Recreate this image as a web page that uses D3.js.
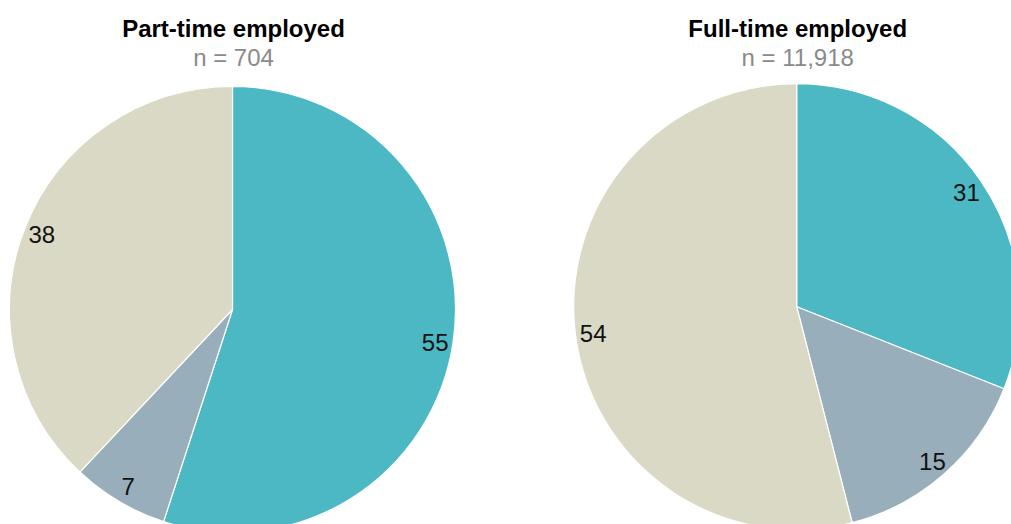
<!DOCTYPE html>
<html>
<head>
<meta charset="utf-8">
<script src="https://cdn.jsdelivr.net/npm/d3@7/dist/d3.min.js"></script>
<style>
  html, body { margin: 0; padding: 0; background: #fff; overflow: hidden; }
  svg { display: block; font-family: "Liberation Sans", Arial, sans-serif; }
</style>
</head>
<body>
<svg id="chart" width="1011" height="524"></svg>
<script>
// Response shares (percent) for each employment group
const categories = ["Group A", "Group B", "Group C"];
const partTimeValues = [55, 7, 38];
const fullTimeValues = [31, 15, 54];
const panelTitles = ["Part-time employed", "Full-time employed"];
const panelCounts = ["n = 704", "n = 11,918"];

const colors = d3.scaleOrdinal()
  .domain(categories)
  .range(["#4cb8c3", "#98aeba", "#dad9c6"]);

const svg = d3.select("#chart");
const radius = 223;

const panels = [
  { title: panelTitles[0], count: panelCounts[0], values: partTimeValues, cx: 232.5, cy: 309.5 },
  { title: panelTitles[1], count: panelCounts[1], values: fullTimeValues, cx: 796.7, cy: 306.7 }
];

const pie = d3.pie().sort(null).value(d => d.value);
const arc = d3.arc().innerRadius(0).outerRadius(radius);
const labelArc = d3.arc().innerRadius(radius * 0.92).outerRadius(radius * 0.92);

panels.forEach(p => {
  const data = categories.map((c, i) => ({ category: c, value: p.values[i] }));
  const g = svg.append("g").attr("transform", `translate(${p.cx},${p.cy})`);

  const slices = pie(data);

  g.selectAll("path.slice")
    .data(slices)
    .join("path")
    .attr("class", "slice")
    .attr("d", arc)
    .attr("fill", d => colors(d.data.category))
    .attr("stroke", "#ffffff")
    .attr("stroke-width", 1.2)
    .attr("stroke-linejoin", "round");

  g.selectAll("text.value")
    .data(slices)
    .join("text")
    .attr("class", "value")
    .attr("transform", d => `translate(${labelArc.centroid(d)})`)
    .attr("text-anchor", "middle")
    .attr("dy", "0.38em")
    .attr("font-size", 24)
    .attr("fill", "#111")
    .text(d => d.data.value);

  // Panel heading and sample size
  svg.append("text")
    .attr("x", p.cx + 1)
    .attr("y", 37)
    .attr("text-anchor", "middle")
    .attr("font-size", 24)
    .attr("font-weight", "bold")
    .attr("fill", "#000")
    .text(p.title);

  svg.append("text")
    .attr("x", p.cx + 1)
    .attr("y", 66)
    .attr("text-anchor", "middle")
    .attr("font-size", 24)
    .attr("fill", "#8a8a8a")
    .text(p.count);
});
</script>
</body>
</html>
